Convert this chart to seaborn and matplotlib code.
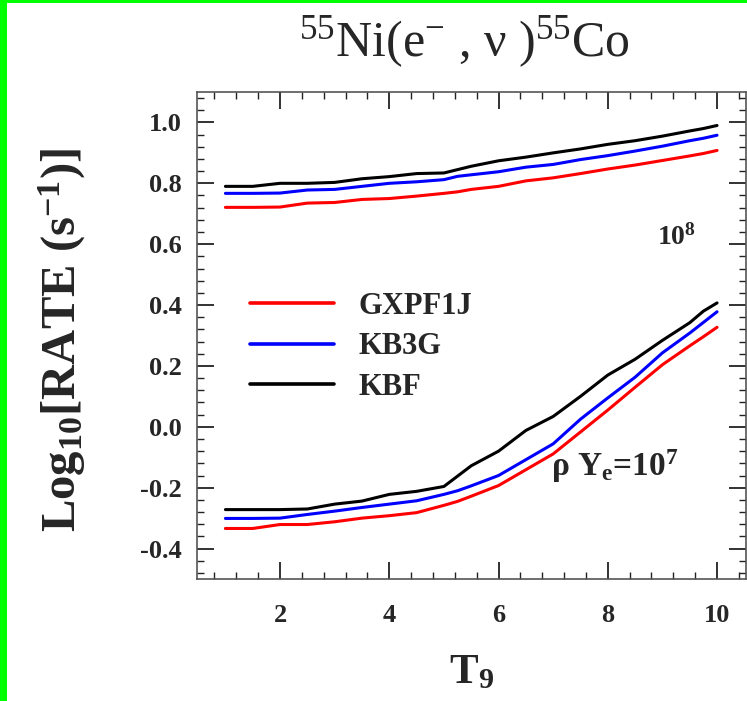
import numpy as np
import pandas as pd
import matplotlib
matplotlib.use('Agg')
import matplotlib.pyplot as plt
from matplotlib.ticker import MultipleLocator
from matplotlib.patches import Rectangle
import seaborn as sns

# temperature grid (T9)
T9 = [1.0, 1.5, 2.0, 2.5, 3.0, 3.5, 4.0, 4.5, 5.0, 5.25, 5.5, 6.0, 6.5,
      7.0, 7.5, 8.0, 8.5, 9.0, 9.5, 9.75, 10.0]

# log10 rates at rho*Ye = 1e8
gxpf1j_1e8 = [0.721, 0.721, 0.722, 0.735, 0.737, 0.747, 0.750, 0.758, 0.767, 0.772, 0.780,
              0.790, 0.808, 0.818, 0.832, 0.847, 0.860, 0.875, 0.890, 0.898, 0.908]
kb3g_1e8 = [0.767, 0.767, 0.768, 0.778, 0.780, 0.790, 0.800, 0.805, 0.812, 0.823, 0.828,
            0.838, 0.853, 0.862, 0.878, 0.891, 0.906, 0.922, 0.940, 0.948, 0.958]
kbf_1e8 = [0.790, 0.790, 0.800, 0.800, 0.803, 0.815, 0.822, 0.832, 0.834, 0.845, 0.856,
           0.874, 0.886, 0.900, 0.913, 0.928, 0.940, 0.955, 0.972, 0.980, 0.990]

# log10 rates at rho*Ye = 1e7
gxpf1j_1e7 = [-0.334, -0.334, -0.321, -0.321, -0.312, -0.300, -0.292, -0.282, -0.258, -0.245, -0.228,
              -0.193, -0.141, -0.089, -0.017, 0.055, 0.130, 0.204, 0.266, 0.296, 0.327]
kb3g_1e7 = [-0.301, -0.301, -0.300, -0.288, -0.277, -0.265, -0.254, -0.243, -0.222, -0.210, -0.194,
            -0.160, -0.108, -0.056, 0.025, 0.095, 0.163, 0.243, 0.308, 0.343, 0.378]
kbf_1e7 = [-0.272, -0.272, -0.272, -0.270, -0.254, -0.244, -0.222, -0.212, -0.196, -0.162, -0.128,
           -0.080, -0.012, 0.034, 0.100, 0.170, 0.222, 0.284, 0.342, 0.380, 0.407]

MODELS = ['GXPF1J', 'KB3G', 'KBF']
COLORS = {'GXPF1J': '#ff0000', 'KB3G': '#0000ff', 'KBF': '#000000'}

series = {
    ('GXPF1J', '1e7'): gxpf1j_1e7, ('KB3G', '1e7'): kb3g_1e7, ('KBF', '1e7'): kbf_1e7,
    ('GXPF1J', '1e8'): gxpf1j_1e8, ('KB3G', '1e8'): kb3g_1e8, ('KBF', '1e8'): kbf_1e8,
}
rows = []
for (model, dens), vals in series.items():
    for t, v in zip(T9, vals):
        rows.append({'T9': t, 'rate': v, 'model': model, 'density': dens})
df = pd.DataFrame(rows)

sns.set_style('ticks')
plt.rcParams['font.family'] = ['Liberation Serif', 'DejaVu Serif']
plt.rcParams['mathtext.fontset'] = 'custom'
plt.rcParams['mathtext.rm'] = 'Liberation Serif'
plt.rcParams['mathtext.it'] = 'Liberation Serif:italic'
plt.rcParams['mathtext.bf'] = 'Liberation Serif:bold'

fig = plt.figure(figsize=(7.47, 7.01), dpi=100)
ax = fig.add_axes([197 / 747, 1 - 579 / 701, 549 / 747, 487 / 701])

sns.lineplot(data=df, x='T9', y='rate', hue='model', units='density', estimator=None,
             palette=COLORS, hue_order=MODELS, linewidth=2.2, ax=ax)

ax.set_xlim(0.48, 10.53)
ax.set_ylim(-0.5, 1.1)
ax.xaxis.set_minor_locator(MultipleLocator(0.4))
ax.yaxis.set_minor_locator(MultipleLocator(0.04))
ax.set_xticks([2, 4, 6, 8, 10])
yt = [-0.4, -0.2, 0.0, 0.2, 0.4, 0.6, 0.8, 1.0]
ax.set_yticks(yt)
ax.set_yticklabels(['%.1f' % v for v in yt])

ax.tick_params(which='both', direction='in', top=True, right=True, color='#222222')
ax.tick_params(which='major', length=12, width=1.3)
ax.tick_params(which='minor', length=5, width=1.0)
ax.tick_params(axis='x', which='major', pad=18, labelsize=19)
ax.tick_params(axis='y', which='major', pad=11, labelsize=19)
for lab in ax.get_xticklabels() + ax.get_yticklabels():
    lab.set_fontweight('bold')
for sp in ax.spines.values():
    sp.set_color('#555555')
    sp.set_linewidth(1.2)

ax.set_xlabel(r'T$_{\mathbf{9}}$', fontsize=31, fontweight='bold')
ax.xaxis.set_label_coords(0.5, -0.155)
ax.set_ylabel(r'Log$_{\mathbf{10}}$[RATE (s$^{\mathbf{-1}}$)]', fontsize=35, fontweight='bold')
ax.yaxis.set_label_coords(-0.198, 0.49)

ax.set_title(r'$^{55}$Ni(e$^{-}$ , ν )$^{55}$Co', fontsize=36, pad=26, x=0.488)

ax.text(0.873, 0.686, r'10$^{\mathbf{8}}$', transform=ax.transAxes, fontsize=20,
        fontweight='bold', ha='center', va='baseline')
ax.text(0.645, 0.2115, r'ρ Y$_{\mathbf{e}}$=10$^{\mathbf{7}}$', transform=ax.transAxes,
        fontsize=24, fontweight='bold', ha='left', va='baseline')

leg = ax.legend(loc='upper left', bbox_to_anchor=(0.0965, 0.590), frameon=False,
                handlelength=2.75, handletextpad=0.8, labelspacing=0.38, borderpad=0,
                borderaxespad=0, prop={'family': 'Liberation Serif', 'weight': 'bold', 'size': 22})
for line in leg.get_lines():
    line.set_linewidth(2.6)

# green frame edges
fig.add_artist(Rectangle((0, 0), 7 / 747, 1, transform=fig.transFigure, color='#00ff00', lw=0))
fig.add_artist(Rectangle((0, 1 - 2.5 / 701), 1, 2.5 / 701, transform=fig.transFigure,
                         color='#00ff00', lw=0))

fig.savefig('out.png', dpi=100)
